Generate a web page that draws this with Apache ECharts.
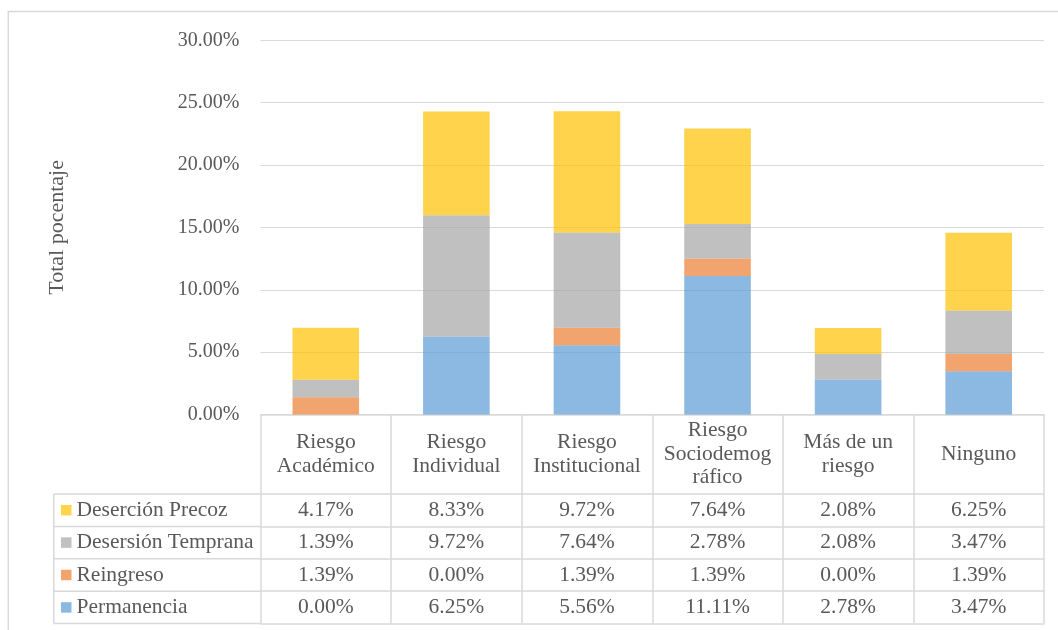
<!DOCTYPE html>
<html><head><meta charset="utf-8">
<script src="https://cdn.jsdelivr.net/npm/echarts@6/dist/echarts.min.js"></script>
<style>html,body{margin:0;padding:0;background:#fff}#c{width:1058px;height:630px}</style>
</head><body><div id="c"></div>
<script>
// ---- data ----
const categories = ['Riesgo\nAcadémico', 'Riesgo\nIndividual', 'Riesgo\nInstitucional', 'Riesgo\nSociodemog\nráfico', 'Más de un\nriesgo', 'Ninguno'];
const seriesNames = ['Permanencia', 'Reingreso', 'Desersión Temprana', 'Deserción Precoz'];
const permanencia = [0.00, 6.25, 5.56, 11.11, 2.78, 3.47];
const reingreso = [1.39, 0.00, 1.39, 1.39, 0.00, 1.39];
const desercionTemprana = [1.39, 9.72, 7.64, 2.78, 2.08, 3.47];
const desercionPrecoz = [4.17, 8.33, 9.72, 7.64, 2.08, 6.25];
const yMin = 0, yMax = 30, yInterval = 5;
const yTitle = 'Total pocentaje';

// ---- layout ----
const FONT = '"Liberation Serif", "Times New Roman", serif';
const TXT = '#595959';
const LINE = '#d9d9d9';
const L = 260.5, R = 1044, TOP = 40.3, AXY = 414.5;
const HEADER = 79.5, ROW = 32.4;
const LEG_X = 53.8;
const TFS = 21.5;
const colors = ['rgba(91,155,213,0.7)', 'rgba(237,125,49,0.7)', 'rgba(165,165,165,0.7)', 'rgba(255,192,0,0.7)'];
const seriesData = [permanencia, reingreso, desercionTemprana, desercionPrecoz];
const rowOrder = [3, 2, 1, 0]; // table rows top->bottom
const fmt = v => v.toFixed(2) + '%';

const xAxes = [{
  type: 'category', data: categories, gridIndex: 0, position: 'bottom',
  axisLine: { show: true, lineStyle: { color: LINE, width: 1.5 } },
  axisTick: { show: true, length: HEADER + ROW * 4, lineStyle: { color: LINE, width: 1.5 } },
  axisLabel: { interval: 0, margin: HEADER / 2, verticalAlign: 'middle', align: 'center',
    fontFamily: FONT, fontSize: TFS, color: TXT, lineHeight: 23.5 }
}];
rowOrder.forEach((si, r) => {
  xAxes.push({
    type: 'category', data: categories, gridIndex: 0, position: 'bottom',
    offset: HEADER + r * ROW,
    axisLine: { show: true, lineStyle: { color: LINE, width: 1.5 } },
    axisTick: { show: false },
    axisLabel: { interval: 0, margin: ROW / 2, verticalAlign: 'middle', align: 'center',
      fontFamily: FONT, fontSize: TFS, color: TXT,
      formatter: (val, idx) => fmt(seriesData[si][idx]) }
  });
});
xAxes.push({
  type: 'category', data: categories, gridIndex: 0, position: 'bottom',
  offset: HEADER + 4 * ROW,
  axisLine: { show: true, lineStyle: { color: LINE, width: 1.5 } },
  axisTick: { show: false }, axisLabel: { show: false }
});

const graphics = [
  { type: 'rect', shape: { x: 8.3, y: 11.5, width: 1100, height: 700 },
    style: { fill: 'none', stroke: LINE, lineWidth: 1.5 }, z: -1, silent: true },
  { type: 'line', shape: { x1: LEG_X, y1: AXY + HEADER, x2: LEG_X, y2: AXY + HEADER + 4 * ROW },
    style: { stroke: LINE, lineWidth: 1.5 }, silent: true }
];
for (let i = 0; i <= 4; i++) {
  const y = AXY + HEADER + i * ROW;
  graphics.push({ type: 'line', shape: { x1: LEG_X, y1: y, x2: L, y2: y },
    style: { stroke: LINE, lineWidth: 1.5 }, silent: true });
}

const chart = echarts.init(document.getElementById('c'), null, { renderer: 'canvas' });
chart.setOption({
  animation: false,
  backgroundColor: '#fff',
  grid: { left: L, right: 1058 - R, top: TOP, bottom: 630 - AXY, containLabel: false },
  legend: {
    orient: 'vertical', left: 61, top: AXY + HEADER, padding: 0, itemGap: 0,
    itemWidth: 10.5, itemHeight: 10.5, icon: 'rect', selectedMode: false,
    data: rowOrder.map(i => seriesNames[i]),
    textStyle: { fontFamily: FONT, fontSize: TFS, color: TXT, lineHeight: ROW, padding: [0, 0, 0, 0] }
  },
  xAxis: xAxes,
  yAxis: {
    type: 'value', min: yMin, max: yMax, interval: yInterval,
    name: yTitle, nameLocation: 'middle', nameGap: 192, nameRotate: 90,
    nameTextStyle: { fontFamily: FONT, fontSize: 22, color: TXT },
    axisLine: { show: false }, axisTick: { show: false },
    splitLine: { show: true, lineStyle: { color: LINE, width: 1.2 } },
    axisLabel: { formatter: v => v.toFixed(2) + '%', fontFamily: FONT, fontSize: 20, color: TXT, margin: 21 }
  },
  series: seriesNames.map((n, i) => ({
    name: n, type: 'bar', stack: 'total', xAxisIndex: 0, barWidth: '51%',
    data: seriesData[i], itemStyle: { color: colors[i] }
  })),
  graphic: graphics
});
</script>
</body></html>
